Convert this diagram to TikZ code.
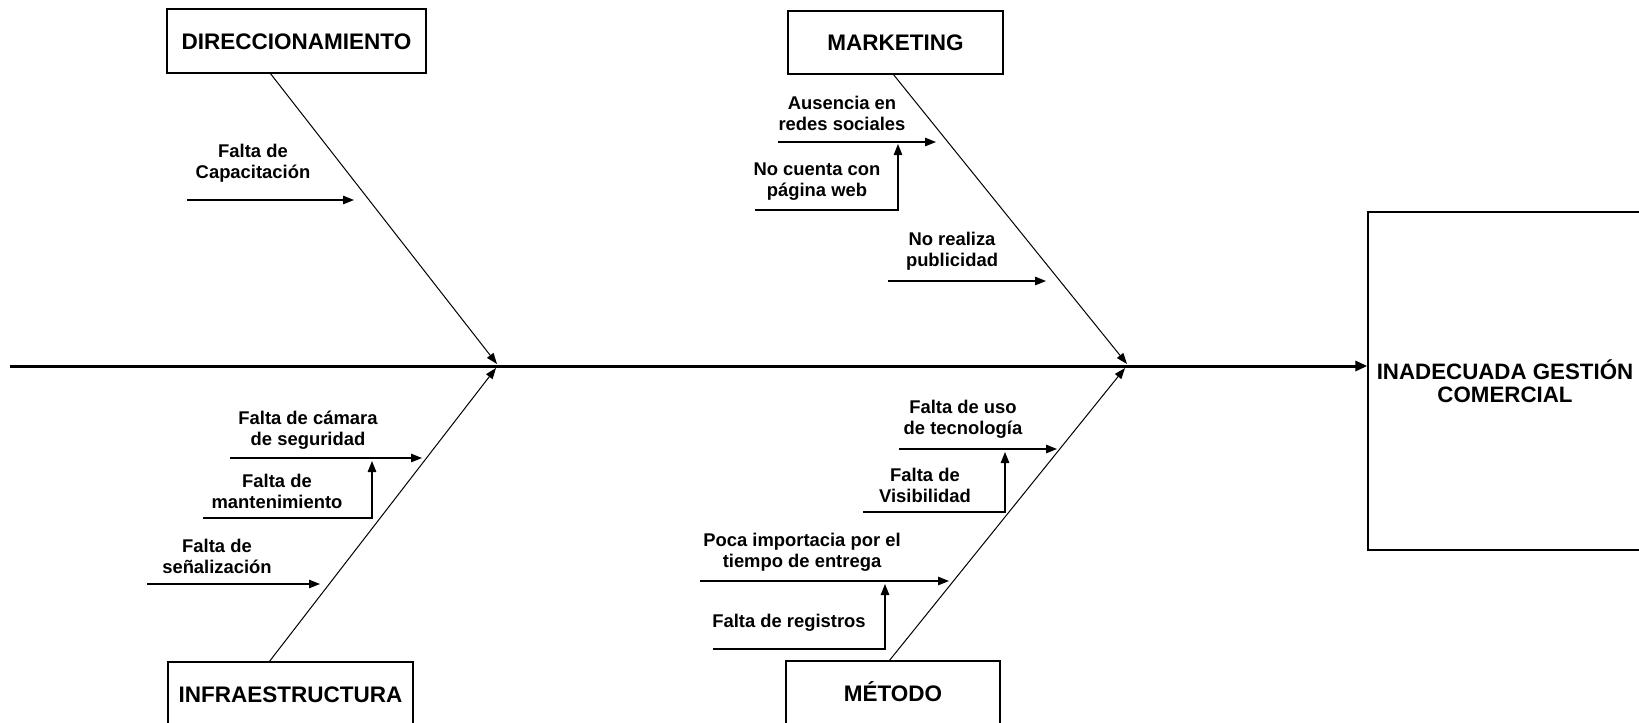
\documentclass[tikz,border=0pt]{standalone}
\usepackage{fontspec}
\setmainfont{Liberation Sans}
\usetikzlibrary{arrows.meta}
\begin{document}
\begin{tikzpicture}[x=1pt,y=-1pt,
  catbox/.style={draw,line width=1.3pt,minimum height=64pt,inner sep=0pt,
    font=\fontsize{22.5}{25}\selectfont\bfseries,text height=16pt,text depth=0pt},
  lbl/.style={align=center,inner sep=0pt,font=\fontsize{18.4}{21}\selectfont\bfseries},
  bone/.style={line width=1pt,-{Triangle[length=11pt,width=8pt]}},
  cause/.style={line width=1.2pt,-{Triangle[length=11pt,width=8.5pt]}},
  spine/.style={line width=3pt,-{Triangle[length=12pt,width=10pt]}}]
\useasboundingbox (0,0) rectangle (1639,723);

% effect box and main spine
\node[draw,line width=1.3pt,minimum width=274pt,minimum height=338pt,inner sep=0pt] (effect) at (1505,381) {};
\node[align=center,inner sep=0pt,font=\fontsize{22.3}{22}\selectfont\bfseries] (efftxt) at (1505,384.6)
  {\strut INADECUADA GESTIÓN\\\strut COMERCIAL};
\coordinate (tail) at (10,366);
\draw[spine] (tail) -- (tail -| effect.west);

% category boxes
\node[catbox,minimum width=259pt] (dir) at (296.5,41) {DIRECCIONAMIENTO};
\node[catbox,minimum width=215pt,minimum height=63pt] (mkt) at (895.5,42.5) {MARKETING};
\node[catbox,minimum width=245pt] (inf) at (290.5,694) {INFRAESTRUCTURA};
\node[catbox,minimum width=214pt] (met) at (893,693) {MÉTODO};

% main bones
\coordinate (dirfoot) at (270,73);   \coordinate (dirtip) at (497,364);
\coordinate (mktfoot) at (893,74);   \coordinate (mkttip) at (1127,364);
\coordinate (inffoot) at (269,662);  \coordinate (inftip) at (496,368);
\coordinate (metfoot) at (889,661);  \coordinate (mettip) at (1125,368);
\draw[bone] (dirfoot) -- (dirtip);
\draw[bone] (mktfoot) -- (mkttip);
\draw[bone] (inffoot) -- (inftip);
\draw[bone] (metfoot) -- (mettip);

% DIRECCIONAMIENTO causes
\node[lbl] (capac) at (253,164) {\strut Falta de\\\strut Capacitación};
\coordinate (c1a) at (187,200); \coordinate (c1b) at (354,200);
\draw[cause] (c1a) -- (c1b);

% MARKETING causes
\node[lbl] (redes) at (842,116) {\strut Ausencia en\\\strut redes sociales};
\coordinate (m1a) at (778,142); \coordinate (m1b) at (936,142);
\draw[cause] (m1a) -- (m1b);
\node[lbl] (web) at (817,182) {\strut No cuenta con\\\strut página web};
\coordinate (m2a) at (755,210); \coordinate (m2b) at (898,210); \coordinate (m2c) at (898,144);
\draw[cause] (m2a) -- (m2b) -- (m2c);
\node[lbl] (publi) at (952,252) {\strut No realiza\\\strut publicidad};
\coordinate (m3a) at (888,281); \coordinate (m3b) at (1046,281);
\draw[cause] (m3a) -- (m3b);

% INFRAESTRUCTURA causes
\node[lbl] (camara) at (308,431) {\strut Falta de cámara\\\strut de seguridad};
\coordinate (i1a) at (230,458); \coordinate (i1b) at (422,458);
\draw[cause] (i1a) -- (i1b);
\node[lbl] (mant) at (277,494) {\strut Falta de\\\strut mantenimiento};
\coordinate (i2a) at (203,518); \coordinate (i2b) at (372,518); \coordinate (i2c) at (372,461);
\draw[cause] (i2a) -- (i2b) -- (i2c);
\node[lbl] (senal) at (217,559) {\strut Falta de\\\strut señalización};
\coordinate (i3a) at (147,584); \coordinate (i3b) at (320,584);
\draw[cause] (i3a) -- (i3b);

% MÉTODO causes
\node[lbl] (tecno) at (963,420) {\strut Falta de uso\\\strut de tecnología};
\coordinate (t1a) at (899,449); \coordinate (t1b) at (1057,449);
\draw[cause] (t1a) -- (t1b);
\node[lbl] (visib) at (925,488) {\strut Falta de\\\strut Visibilidad};
\coordinate (t2a) at (863,512); \coordinate (t2b) at (1005,512); \coordinate (t2c) at (1005,452);
\draw[cause] (t2a) -- (t2b) -- (t2c);
\node[lbl] (entrega) at (802,553) {\strut Poca importacia por el\\\strut tiempo de entrega};
\coordinate (t3a) at (700,581); \coordinate (t3b) at (949,581);
\draw[cause] (t3a) -- (t3b);
\node[lbl] (regis) at (789,623) {\strut Falta de registros};
\coordinate (t4a) at (713,649); \coordinate (t4b) at (885,649); \coordinate (t4c) at (885,584);
\draw[cause] (t4a) -- (t4b) -- (t4c);
\end{tikzpicture}
\end{document}
